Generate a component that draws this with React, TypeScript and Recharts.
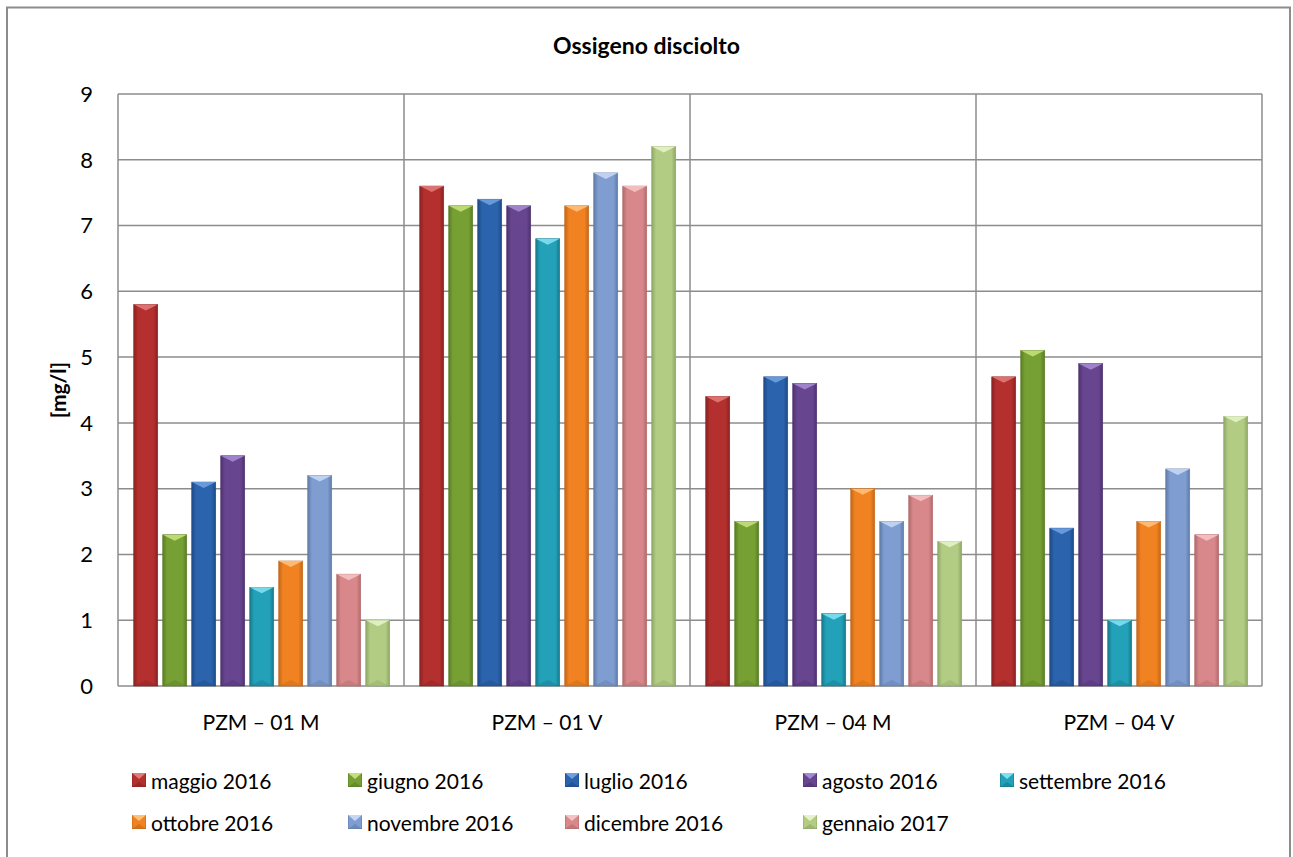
import React from 'react';
import { BarChart, Bar, XAxis, YAxis, CartesianGrid, Label } from 'recharts';

const categories = ['PZM – 01 M', 'PZM – 01 V', 'PZM – 04 M', 'PZM – 04 V'];
const seriesNames = [
    'maggio 2016',
    'giugno 2016',
    'luglio 2016',
    'agosto 2016',
    'settembre 2016',
    'ottobre 2016',
    'novembre 2016',
    'dicembre 2016',
    'gennaio 2017',
];
const maggio = [5.8, 7.6, 4.4, 4.7];
const giugno = [2.3, 7.3, 2.5, 5.1];
const luglio = [3.1, 7.4, 4.7, 2.4];
const agosto = [3.5, 7.3, 4.6, 4.9];
const settembre = [1.5, 6.8, 1.1, 1.0];
const ottobre = [1.9, 7.3, 3.0, 2.5];
const novembre = [3.2, 7.8, 2.5, 3.3];
const dicembre = [1.7, 7.6, 2.9, 2.3];
const gennaio = [1.0, 8.2, 2.2, 4.1];
const yTicks = [0, 1, 2, 3, 4, 5, 6, 7, 8, 9];

const seriesValues = [maggio, giugno, luglio, agosto, settembre, ottobre, novembre, dicembre, gennaio];
const colors = ['#b3302f', '#76a034', '#2b63ad', '#68458f', '#22a1b9', '#f08221', '#7f9dd0', '#d8888a', '#b2cc84'];
const dark = ['#8a2222', '#5a7d25', '#1f4a86', '#4d3270', '#17798c', '#c4661a', '#5f7ba8', '#b26a6b', '#8ea765'];
const light = ['#e07a78', '#c3e07b', '#6e9fe0', '#a48ad0', '#7fe0f0', '#ffc07a', '#c7d7f3', '#f6c3c4', '#e6f2c8'];

const chartData = categories.map((name, i) => {
    const row: Record<string, string | number> = { name };
    seriesNames.forEach((s, k) => {
        row['s' + k] = seriesValues[k][i];
    });
    return row;
});

const FONT = 'Lato, "Open Sans", sans-serif';

// bevelled bar like the office 3d preset
const makeShape = (k: number) => (props: any) => {
    const { x, y, width, height } = props;
    if (!height || height <= 0) return null;
    const b = Math.min(6, height / 2);
    return (
        <g>
            <rect x={x} y={y} width={width} height={height} fill={`url(#grad${k})`} stroke={dark[k]} strokeWidth={0.6} />
            <polygon points={`${x},${y} ${x + width},${y} ${x + width / 2},${y + b}`} fill={light[k]} opacity={0.9} />
            <polygon
                points={`${x},${y + height} ${x + width},${y + height} ${x + width / 2},${y + height - b}`}
                fill={dark[k]}
                opacity={0.4}
            />
        </g>
    );
};

const LegendMarker: React.FC<{ k: number }> = ({ k }) => (
    <svg width={14} height={14} style={{ marginRight: 5 }}>
        <rect x={0} y={0} width={14} height={14} fill={colors[k]} stroke={dark[k]} strokeWidth={1} />
        <polygon points="0,0 14,0 7,6" fill={light[k]} />
        <polygon points="0,14 14,14 7,9" fill={dark[k]} opacity={0.6} />
    </svg>
);

const legendCols = [132, 348, 565, 803, 1000];
const legendRows = [780, 822];

export default function App() {
    return (
        <div style={{ position: 'fixed', left: 0, top: 0, width: 1293, height: 857, overflow: 'hidden', background: '#fff' }}>
            <div
                style={{
                    position: 'absolute',
                    top: 30,
                    left: 0,
                    width: 1293,
                    textAlign: 'center',
                    fontFamily: FONT,
                    fontWeight: 'bold',
                    fontSize: 23,
                    lineHeight: '30px',
                }}
            >
                Ossigeno disciolto
            </div>
            <div style={{ position: 'absolute', left: 0, top: 0 }}>
                <BarChart
                    width={1293}
                    height={857}
                    data={chartData}
                    margin={{ top: 94, right: 31, bottom: 141, left: 0 }}
                    barCategoryGap="5.5%"
                    barGap={5}
                >
                    <defs>
                        {colors.map((c, k) => (
                            <linearGradient key={k} id={`grad${k}`} x1="0" y1="0" x2="1" y2="0">
                                <stop offset="0%" stopColor={dark[k]} />
                                <stop offset="18%" stopColor={c} />
                                <stop offset="82%" stopColor={c} />
                                <stop offset="100%" stopColor={dark[k]} />
                            </linearGradient>
                        ))}
                    </defs>
                    <CartesianGrid
                        stroke="#8c8c8c"
                        strokeWidth={1.5}
                        verticalCoordinatesGenerator={({ offset }: any) =>
                            categories.concat(['']).map((_, i) => offset.left + (i * offset.width) / categories.length)
                        }
                    />
                    <XAxis
                        dataKey="name"
                        axisLine={false}
                        tickLine={false}
                        tickSize={0}
                        tickMargin={29}
                        tick={{ fill: '#000', fontSize: 21, fontFamily: FONT }}
                    />
                    <YAxis
                        domain={[0, 9]}
                        ticks={yTicks}
                        width={118}
                        axisLine={false}
                        tickLine={false}
                        tickSize={0}
                        tickMargin={25}
                        tick={{ fill: '#000', fontSize: 22, fontFamily: FONT }}
                    >
                        <Label
                            value="[mg/l]"
                            angle={-90}
                            position="insideLeft"
                            offset={59}
                            style={{ fill: '#000', fontSize: 21, fontWeight: 'bold', fontFamily: FONT, textAnchor: 'middle' }}
                        />
                    </YAxis>
                    {seriesNames.map((s, k) => (
                        <Bar
                            key={s}
                            dataKey={'s' + k}
                            name={s}
                            fill={colors[k]}
                            shape={makeShape(k)}
                            isAnimationActive={false}
                        />
                    ))}
                </BarChart>
            </div>
            {seriesNames.map((s, k) => {
                const row = k < 5 ? 0 : 1;
                const col = k < 5 ? k : k - 5;
                return (
                    <div
                        key={s}
                        style={{
                            position: 'absolute',
                            left: legendCols[col],
                            top: legendRows[row] - 14,
                            height: 28,
                            display: 'flex',
                            alignItems: 'center',
                            fontFamily: FONT,
                            fontSize: 21,
                            whiteSpace: 'nowrap',
                        }}
                    >
                        <LegendMarker k={k} />
                        {s}
                    </div>
                );
            })}
            <svg
                width={1293}
                height={857}
                style={{ position: 'absolute', left: 0, top: 0, pointerEvents: 'none' }}
            >
                <path d="M7 860 V7.5 H1290 V860" fill="none" stroke="#8c8c8c" strokeWidth={2} />
            </svg>
        </div>
    );
}
